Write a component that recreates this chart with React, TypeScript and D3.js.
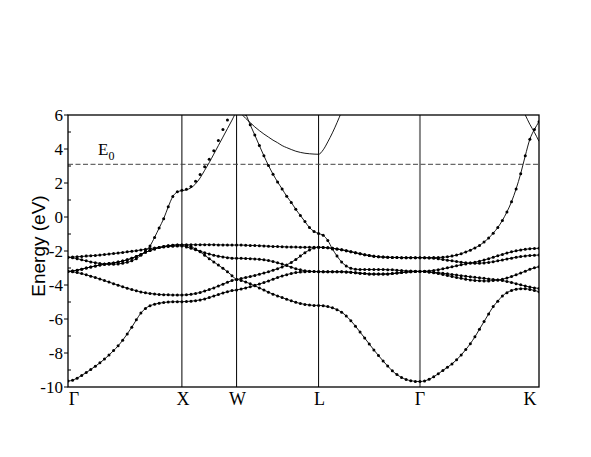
import React from "react";
import * as d3 from "d3";

const W = 591;
const H = 457;

// symmetry points along the k-path
const symLabels = ["Γ", "X", "W", "L", "Γ", "K"];
const symK = [0, 1, 1.48, 2.2, 3.09, 4.135];
const segSteps = [25, 12, 18, 22, 26];
const yTicks = [-10, -8, -6, -4, -2, 0, 2, 4, 6];
const yMinor = [-9, -7, -5, -3, -1, 1, 3, 5];
const E0 = 3.1;

// band energies (eV) at each k point: Γ-X | X-W | W-L | L-Γ | Γ-K
const bandA = [
  -9.65, -9.6, -9.48, -9.32, -9.15, -8.97, -8.78, -8.58, -8.36, -8.12, -7.86, -7.58, -7.25, -6.88, -6.48, -6.05, -5.65, -5.38, -5.22, -5.13, -5.07, -5.03, -5.0, -4.99, -4.98, -4.98,
  -4.97, -4.95, -4.92, -4.88, -4.82, -4.74, -4.65, -4.56, -4.47, -4.39, -4.33, -4.29,
  -4.24, -4.17, -4.1, -4.02, -3.94, -3.86, -3.76, -3.66, -3.56, -3.47, -3.39, -3.32, -3.27, -3.24, -3.22, -3.21, -3.21, -3.21,
  -3.22, -3.22, -3.22, -3.22, -3.22, -3.23, -3.25, -3.28, -3.31, -3.33, -3.35, -3.36, -3.36, -3.36, -3.35, -3.33, -3.3, -3.27, -3.24, -3.22, -3.21, -3.2,
  -3.19, -3.17, -3.14, -3.1, -3.05, -2.99, -2.93, -2.87, -2.81, -2.76, -2.71, -2.66, -2.6, -2.53, -2.45, -2.37, -2.28, -2.2, -2.12, -2.05, -1.99, -1.94, -1.9, -1.87, -1.85, -1.84,
];
const bandB = [
  -3.2, -3.22, -3.27, -3.33, -3.4, -3.48, -3.56, -3.65, -3.74, -3.83, -3.92, -4.01, -4.1, -4.19, -4.27, -4.34, -4.41, -4.46, -4.5, -4.53, -4.56, -4.57, -4.58, -4.59, -4.59, -4.59,
  -4.58, -4.55, -4.5, -4.44, -4.36, -4.27, -4.17, -4.06, -3.95, -3.84, -3.74, -3.67,
  -3.73, -3.82, -3.93, -4.05, -4.17, -4.3, -4.42, -4.54, -4.64, -4.74, -4.84, -4.93, -5.02, -5.09, -5.14, -5.18, -5.2, -5.2,
  -5.22, -5.27, -5.34, -5.45, -5.6, -5.82, -6.1, -6.42, -6.77, -7.12, -7.47, -7.82, -8.15, -8.47, -8.77, -9.05, -9.27, -9.44, -9.56, -9.63, -9.67, -9.68,
  -9.64, -9.55, -9.4, -9.22, -9.03, -8.84, -8.64, -8.4, -8.12, -7.8, -7.45, -7.05, -6.6, -6.15, -5.7, -5.27, -4.95, -4.65, -4.45, -4.32, -4.25, -4.22, -4.22, -4.26, -4.32, -4.39,
];
const bandC = [
  -3.2, -3.18, -3.13, -3.07, -3.0, -2.94, -2.88, -2.83, -2.78, -2.74, -2.7, -2.65, -2.59, -2.52, -2.43, -2.32, -2.2, -2.08, -1.97, -1.88, -1.8, -1.74, -1.69, -1.66, -1.64, -1.64,
  -1.63, -1.63, -1.63, -1.63, -1.63, -1.63, -1.63, -1.64, -1.64, -1.65, -1.65, -1.65,
  -1.65, -1.66, -1.67, -1.68, -1.69, -1.7, -1.72, -1.73, -1.74, -1.75, -1.76, -1.77, -1.77, -1.78, -1.78, -1.78, -1.78, -1.78,
  -1.79, -1.81, -1.84, -1.88, -1.93, -1.98, -2.04, -2.1, -2.16, -2.22, -2.27, -2.31, -2.34, -2.36, -2.37, -2.38, -2.38, -2.39, -2.39, -2.39, -2.39, -2.39,
  -2.39, -2.39, -2.38, -2.38, -2.37, -2.34, -2.3, -2.24, -2.16, -2.06, -1.95, -1.82, -1.67, -1.47, -1.24, -0.95, -0.62, -0.2, 0.3, 0.9, 1.65, 2.55, 3.6, 4.57, 5.15, 5.6,
];
const bandD = [
  -3.2, -3.18, -3.13, -3.07, -3.0, -2.94, -2.88, -2.83, -2.78, -2.74, -2.7, -2.65, -2.59, -2.52, -2.43, -2.32, -2.2, -2.08, -1.97, -1.88, -1.8, -1.74, -1.69, -1.66, -1.64, -1.64,
  -1.67, -1.74, -1.88, -2.05, -2.25, -2.45, -2.64, -2.83, -3.02, -3.22, -3.45, -3.67,
  -3.62, -3.56, -3.5, -3.44, -3.37, -3.3, -3.22, -3.13, -3.04, -2.94, -2.82, -2.67, -2.5, -2.3, -2.1, -1.94, -1.83, -1.78,
  -1.79, -1.81, -1.84, -1.88, -1.93, -1.98, -2.04, -2.1, -2.16, -2.22, -2.27, -2.31, -2.34, -2.36, -2.37, -2.38, -2.38, -2.39, -2.39, -2.39, -2.39, -2.39,
  -2.4, -2.41, -2.43, -2.46, -2.5, -2.54, -2.58, -2.62, -2.66, -2.69, -2.71, -2.72, -2.72, -2.7, -2.67, -2.63, -2.58, -2.53, -2.47, -2.42, -2.37, -2.33, -2.29, -2.27, -2.25, -2.24,
];
const bandE = [
  -2.37, -2.36, -2.34, -2.32, -2.3, -2.28, -2.26, -2.24, -2.21, -2.18, -2.15, -2.12, -2.09, -2.05, -2.02, -1.98, -1.94, -1.9, -1.86, -1.82, -1.79, -1.76, -1.74, -1.72, -1.71, -1.7,
  -1.76, -1.84, -1.93, -2.02, -2.1, -2.18, -2.25, -2.31, -2.35, -2.39, -2.42, -2.43,
  -2.43, -2.44, -2.45, -2.47, -2.49, -2.52, -2.56, -2.62, -2.69, -2.77, -2.86, -2.95, -3.04, -3.11, -3.16, -3.19, -3.21, -3.22,
  -3.22, -3.22, -3.22, -3.22, -3.22, -3.23, -3.25, -3.28, -3.31, -3.33, -3.35, -3.36, -3.36, -3.36, -3.35, -3.33, -3.3, -3.27, -3.24, -3.22, -3.21, -3.2,
  -3.21, -3.23, -3.25, -3.28, -3.31, -3.34, -3.38, -3.41, -3.45, -3.48, -3.52, -3.55, -3.58, -3.61, -3.64, -3.67, -3.7, -3.74, -3.79, -3.85, -3.92, -3.99, -4.06, -4.12, -4.17, -4.2,
];
const bandF = [
  -2.37, -2.4, -2.45, -2.52, -2.58, -2.64, -2.69, -2.73, -2.76, -2.78, -2.78, -2.76, -2.72, -2.66, -2.58, -2.45, -2.25, -2.0, -1.7, -1.2, -0.65, -0.1, 0.6, 1.2, 1.48, 1.57,
  1.63, 1.8, 2.1, 2.5, 2.95, 3.4, 3.9, 4.5, 5.15, 5.7, 6.3, 6.6,
  6.4, 6.05, 5.42, 4.82, 4.2, 3.6, 3.03, 2.52, 2.06, 1.65, 1.22, 0.86, 0.45, 0.09, -0.27, -0.62, -0.85, -0.97,
  -1.08, -1.38, -1.88, -2.3, -2.65, -2.88, -3.02, -3.07, -3.09, -3.09, -3.09, -3.09, -3.09, -3.09, -3.1, -3.11, -3.13, -3.15, -3.17, -3.18, -3.19, -3.2,
  -3.21, -3.24, -3.28, -3.33, -3.38, -3.44, -3.5, -3.56, -3.61, -3.66, -3.7, -3.73, -3.75, -3.76, -3.76, -3.74, -3.71, -3.66, -3.59, -3.5, -3.4, -3.3, -3.19, -3.08, -2.99, -2.92,
];
// fitted curve of band F between X and W (line only)
const bandFLineXW = [1.55, 1.6, 1.72, 1.95, 2.3, 2.75, 3.2, 3.7, 4.2, 4.7, 5.2, 5.7, 6.2];
// upper bands drawn as lines only: from W through L, and near K
const upperWL = [6.4, 6.08, 5.8, 5.55, 5.3, 5.08, 4.88, 4.7, 4.52, 4.37, 4.2, 4.08, 3.97, 3.87, 3.8, 3.75, 3.72, 3.7, 3.69, 3.95, 4.42, 4.95, 5.55, 6.2, 6.9];
const upperK = [7.0, 6.5, 6.0, 5.45, 4.98, 4.45];

const dottedBands = [bandA, bandB, bandC, bandD, bandE, bandF];

const kGrid: number[] = [symK[0]];
segSteps.forEach((n, s) => {
  for (let i = 1; i <= n; i++) kGrid.push(symK[s] + ((symK[s + 1] - symK[s]) * i) / n);
});
const symIndex: number[] = [0];
segSteps.forEach((n) => symIndex.push(symIndex[symIndex.length - 1] + n));

const left = 68, right = 539, top = 115, bottom = 387;

export default function App() {
  const x = d3.scaleLinear().domain([symK[0], symK[symK.length - 1]]).range([left, right]);
  const y = d3.scaleLinear().domain([-10, 6]).range([bottom, top]);

  const line = d3
    .line<number | null>()
    .defined((v) => v !== null)
    .x((_, i) => x(kGrid[i]))
    .y((v) => y(v as number))
    .curve(d3.curveMonotoneX);

  const fLine: (number | null)[] = bandF.slice();
  bandFLineXW.forEach((v, i) => (fLine[symIndex[1] + i] = v));
  const gLine: (number | null)[] = kGrid.map(() => null);
  upperWL.forEach((v, i) => (gLine[symIndex[2] + i] = v));
  const hLine: (number | null)[] = kGrid.map(() => null);
  upperK.forEach((v, i) => (hLine[symIndex[5] - upperK.length + 1 + i] = v));

  const lineBands: (number | null)[][] = [bandA, bandB, bandC, bandD, bandE, fLine, gLine, hLine];

  const serif = "'Liberation Serif', 'Times New Roman', serif";
  const sans = "'Liberation Sans', Arial, sans-serif";
  const labelX = [74, 183, 237.5, 319.5, 420, 530];

  return (
    <svg width={W} height={H} style={{ position: "absolute", left: 0, top: 0, background: "#fff" }}>
      <defs>
        <clipPath id="plotClip">
          <rect x={left} y={top} width={right - left} height={bottom - top} />
        </clipPath>
      </defs>
      <rect x={0} y={0} width={W} height={H} fill="#fff" />

      {/* vertical symmetry lines */}
      {symK.slice(1, -1).map((k, i) => (
        <line
          key={"v" + i}
          x1={x(k)}
          x2={x(k)}
          y1={top}
          y2={bottom}
          stroke={symLabels[i + 1] === "Γ" ? "#888" : "#000"}
          strokeWidth={symLabels[i + 1] === "Γ" ? 2 : 1}
        />
      ))}

      {/* E0 dashed line */}
      <line x1={left} x2={right} y1={y(E0)} y2={y(E0)} stroke="#444" strokeWidth={1} strokeDasharray="5,2.5" />
      <text x={98} y={155} fontFamily={serif} fontSize={17} fill="#000">
        E<tspan fontSize={12} dy={5}>0</tspan>
      </text>

      <g clipPath="url(#plotClip)">
        {lineBands.map((b, bi) => (
          <path key={"l" + bi} d={line(b) || ""} fill="none" stroke="#000" strokeWidth={0.9} />
        ))}
        {dottedBands.map((b, bi) =>
          b.map((v, i) =>
            v <= 6.2 ? (
              <circle key={bi + "-" + i} cx={x(kGrid[i])} cy={y(v)} r={1.5} fill="#000" />
            ) : null
          )
        )}
      </g>

      {/* frame */}
      <rect x={left} y={top} width={right - left} height={bottom - top} fill="none" stroke="#000" strokeWidth={1.3} />

      {/* y ticks */}
      {yTicks.map((t) => (
        <g key={"yt" + t}>
          <line x1={left - 4} x2={left} y1={y(t)} y2={y(t)} stroke="#000" strokeWidth={1} />
          <text x={left - 5} y={y(t)} dy="0.35em" textAnchor="end" fontFamily={serif} fontSize={17} fill="#000">
            {t}
          </text>
        </g>
      ))}
      {yMinor.map((t) => (
        <line key={"ym" + t} x1={left} x2={left + 3} y1={y(t)} y2={y(t)} stroke="#000" strokeWidth={1} />
      ))}

      {/* x labels */}
      {symLabels.map((s, i) => (
        <text key={"xl" + i} x={labelX[i]} y={405} textAnchor="middle" fontFamily={serif} fontSize={18} fill="#000">
          {s}
        </text>
      ))}

      <text
        transform={`translate(45,246) rotate(-90)`}
        textAnchor="middle"
        fontFamily={sans}
        fontSize={19}
        fill="#000"
      >
        Energy (eV)
      </text>
    </svg>
  );
}
